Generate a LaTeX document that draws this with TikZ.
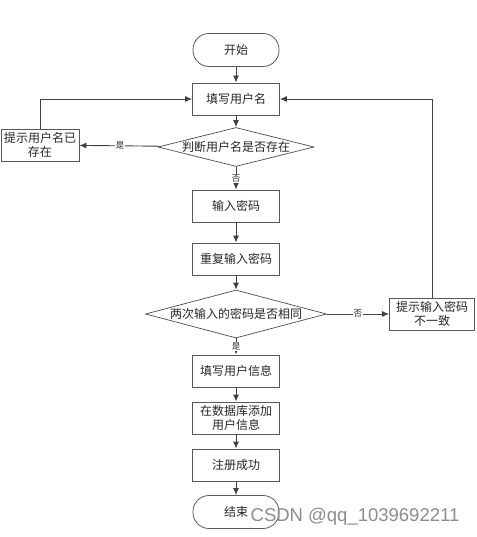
\documentclass[tikz,border=0pt]{standalone}
\usepackage{fontspec}
\newfontfamily\cjk{Noto Sans CJK SC}
\newfontfamily\wmfont{Liberation Sans}
\usepackage{tikz}
\usetikzlibrary{arrows.meta, shapes.geometric}

\begin{document}
\begin{tikzpicture}[x=1pt, y=-1pt,
    every node/.style={font=\cjk\fontsize{12}{14.5}\selectfont, text=black!85},
    stepbox/.style={draw=black!65, line width=.9pt, minimum width=87pt, minimum height=32pt, align=center, inner sep=1pt},
    term/.style={draw=black!65, line width=.8pt, rounded corners=16pt, minimum width=86pt, minimum height=33pt},
    test/.style={draw=black!70, line width=.7pt, diamond, aspect=4, inner sep=0pt},
    lbl/.style={fill=white, inner sep=1pt, font=\cjk\fontsize{8.5}{9}\selectfont},
    ->/.style={-{Latex[length=7pt, width=6pt]}, draw=black!75, line width=.9pt}]
    \useasboundingbox (0, 0) rectangle (476, 537);

    \node [term] (start) at (236, 50) {开始};
    \node [stepbox] (name) at (236, 99) {填写用户名};
    \node [test, minimum width=156pt, minimum height=39pt] (chk1) at (236, 147) {判断用户名是否存在};
    \node [stepbox, minimum width=78pt] (exist) at (40, 145) {提示用户名已\\存在};
    \node [stepbox] (pwd) at (236, 206) {输入密码};
    \node [stepbox] (pwd2) at (236, 259) {重复输入密码};
    \node [test, minimum width=181pt, minimum height=48pt] (chk2) at (236, 314) {两次输入的密码是否相同};
    \node [stepbox, minimum width=85pt] (diff) at (432, 314) {提示输入密码\\不一致};
    \node [stepbox] (info) at (236, 371) {填写用户信息};
    \node [stepbox] (db) at (236, 418) {在数据库添加\\用户信息};
    \node [stepbox] (ok) at (236, 465) {注册成功};
    \node [term] (end) at (236, 512) {结束};

    \draw [->] (start) to (name);
    \draw [->] (name) to (chk1);
    \draw [->] (chk1) to node [lbl] {是} (exist);
    \draw [->] (exist) |- (name);
    \draw [->] (chk1) to node [lbl] {否} (pwd);
    \draw [->] (pwd) to (pwd2);
    \draw [->] (pwd2) to (chk2);
    \draw [->] (chk2) to node [lbl] {否} (diff);
    \draw [->] (diff) |- (name);
    \draw [->] (chk2) to node [lbl] {是} (info);
    \draw [->] (info) to (db);
    \draw [->] (db) to (ok);
    \draw [->] (ok) to (end);

    \node [font=\wmfont\fontsize{18.5}{20}\selectfont, text=black!45] (mark) at (355, 517) {CSDN @qq\_1039692211};
  \end{tikzpicture}
\end{document}
